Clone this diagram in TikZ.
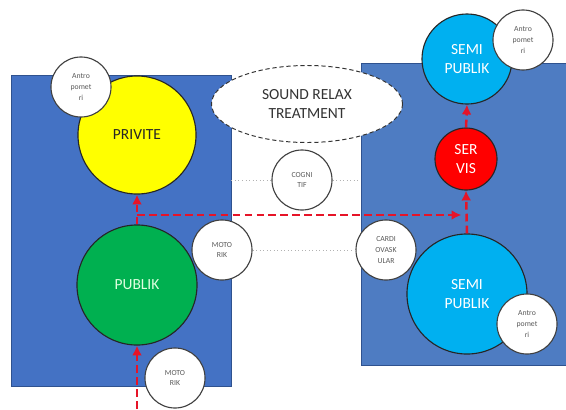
\documentclass[tikz,border=0pt]{standalone}
\usepackage{fontspec}
\setmainfont{Carlito}
\usepackage{xcolor}
\usetikzlibrary{arrows.meta,positioning,shapes.geometric}
\definecolor{zoneblueL}{RGB}{68,114,196}
\definecolor{zoneblueR}{RGB}{78,124,194}
\definecolor{zoneedge}{RGB}{47,82,143}
\definecolor{privyellow}{RGB}{255,255,0}
\definecolor{pubgreen}{RGB}{0,176,80}
\definecolor{semicyan}{RGB}{0,176,240}
\definecolor{servred}{RGB}{255,0,0}
\definecolor{flowred}{RGB}{230,20,40}

\begin{document}
\begin{tikzpicture}[x=0.025cm, y=-0.025cm,
  zone/.style={draw=zoneedge, line width=0.6pt, inner sep=0},
  bigcircle/.style={circle, draw=black!85, line width=0.8pt, inner sep=0,
    align=center, font=\fontsize{11}{13}\selectfont},
  tagcircle/.style={circle, draw=black!75, line width=0.8pt, fill=white,
    minimum size=1.5cm, inner sep=0, align=center,
    font=\fontsize{5.5}{7.5}\selectfont, text=black!65},
  flow/.style={draw=flowred, line width=1.8pt, dash pattern=on 5.5pt off 3pt,
    -{Latex[length=7pt,width=7pt]}},
  faint/.style={draw=black!30, dotted, line width=0.5pt}
]
\useasboundingbox (0,0) rectangle (566,409);

% zones
\node[zone, fill=zoneblueL, minimum width=5.5cm, minimum height=7.775cm] (zoneL) at (121,230.5) {};
\node[zone, fill=zoneblueR, minimum width=5.2cm, minimum height=7.55cm] (zoneR) at (465,214) {};

\node[ellipse, draw=black!80, densely dashed, line width=0.7pt, fill=white,
  minimum width=4.775cm, minimum height=1.925cm, inner sep=0, align=center,
  font=\fontsize{11}{13}\selectfont, text=black!80] (relax) at (307,104) {SOUND RELAX\\TREATMENT};

% main spaces
\node[bigcircle, fill=privyellow, minimum size=2.95cm, text=black!85] (privite) at (137,135) {PRIVITE};
\node[bigcircle, fill=pubgreen, minimum size=3cm, text=green!12!white] (publik) at (137,285) {PUBLIK};
\node[bigcircle, fill=semicyan, minimum size=2.25cm, text=white] (semiT) at (467,59) {SEMI\\PUBLIK};
\node[bigcircle, fill=servred, minimum size=1.55cm, text=white] (servis) at (466,159) {SER\\VIS};
\node[bigcircle, fill=semicyan, minimum size=3cm, text=white] (semiB) at (467,294) {SEMI\\PUBLIK};

% tags
\node[tagcircle] (antroTL) at (81,87) {Antro\\pomet\\ri};
\node[tagcircle] (motoM) at (222,250) {MOTO\\RIK};
\node[tagcircle] (motoB) at (175,378) {MOTO\\RIK};
\node[tagcircle] (cogni) at (302,180) {COGNI\\TIF};
\node[tagcircle] (antroTR) at (523,40) {Antro\\pomet\\ri};
\node[tagcircle] (cardio) at (386,250) {CARDI\\OVASK\\ULAR};
\node[tagcircle] (antroBR) at (527,324) {Antro\\pomet\\ri};

\draw[faint] (zoneL.east |- cogni.west) -- (cogni.west);
\draw[faint] (cogni.east) -- (zoneR.west |- cogni.east);
\draw[faint] (motoM.east) -- (cardio.west);

% flows
\coordinate (entry) at (137,409);
\coordinate (splitL) at (137,215);
\coordinate (splitR) at (467,215);
\draw[flow] (entry) -- (publik.south);
\draw[flow] (publik.north) -- (privite.south);
\draw[flow, shorten >=4pt] (splitL) -- (splitR);
\draw[flow] (semiB.north) -- (servis.south);
\draw[flow] (servis.north) -- (semiT.south);
\end{tikzpicture}
\end{document}
